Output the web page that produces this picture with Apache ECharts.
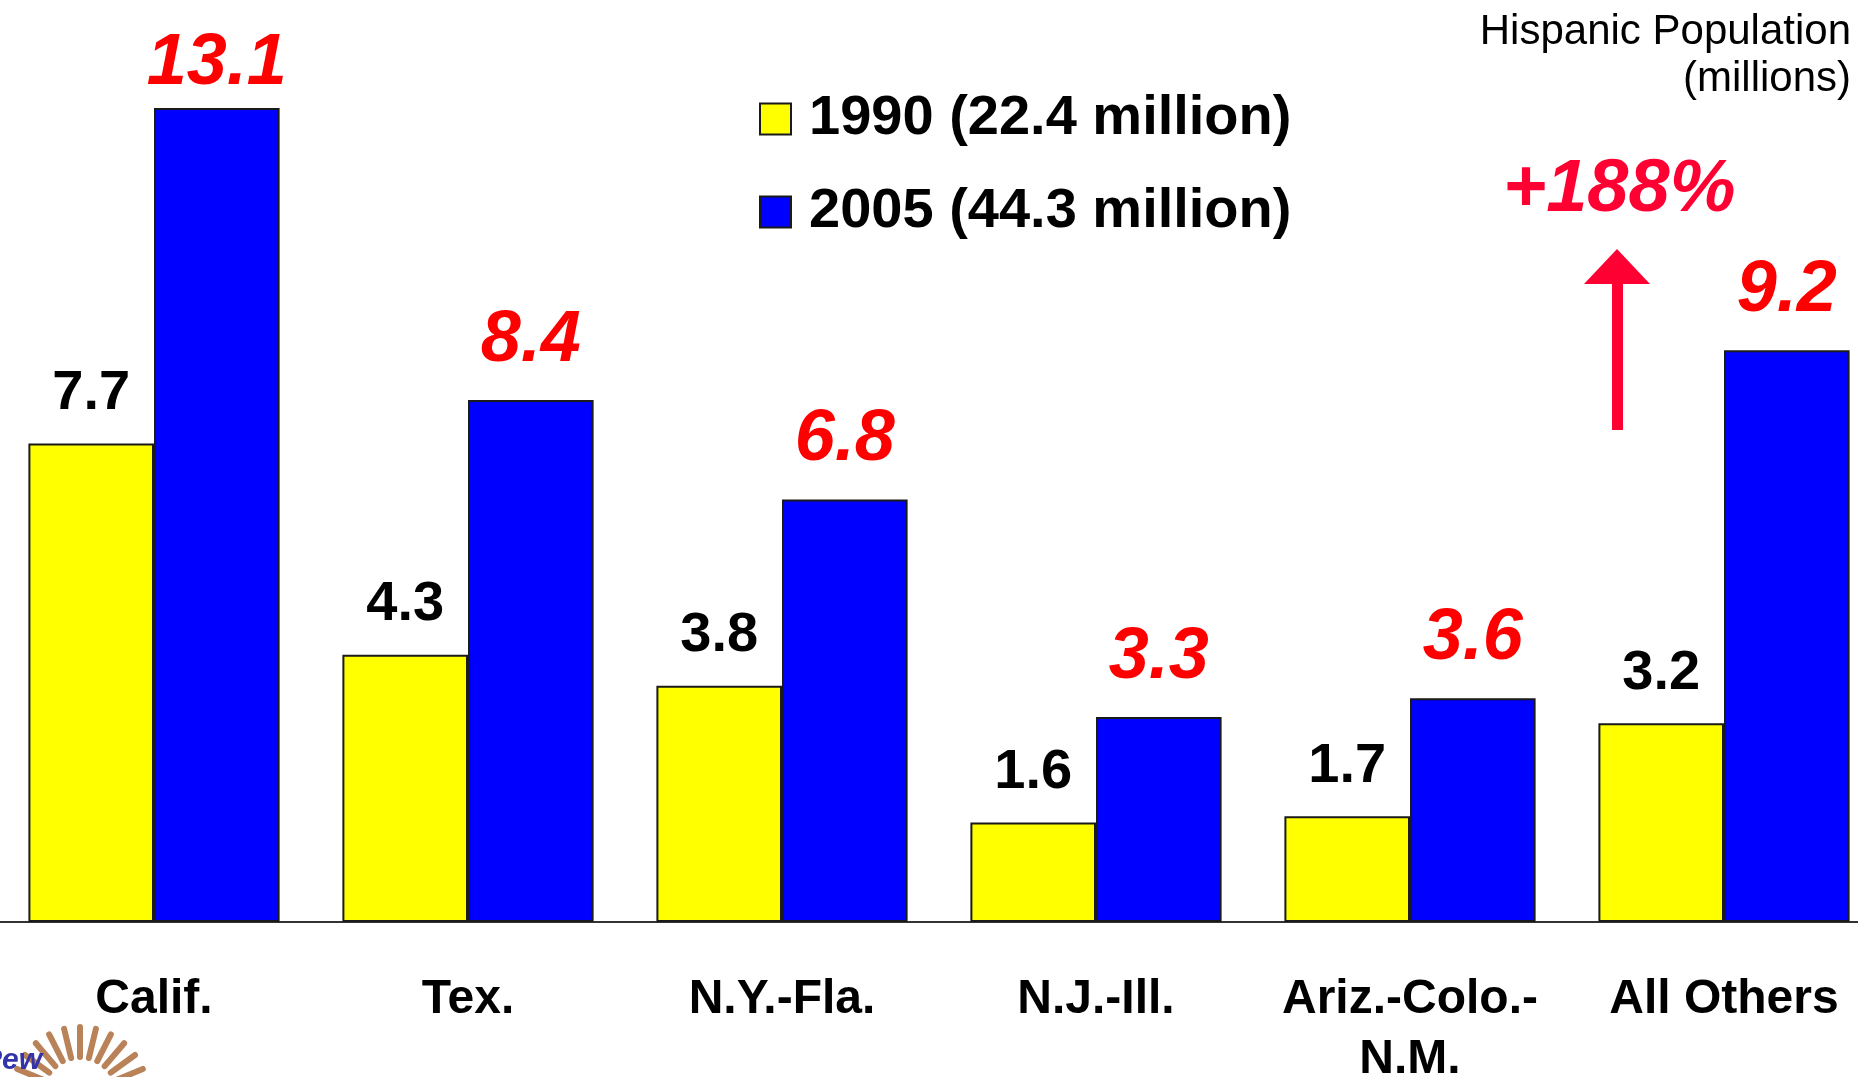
<!DOCTYPE html>
<html>
<head>
<meta charset="utf-8">
<script src="https://cdn.jsdelivr.net/npm/echarts@6/dist/echarts.min.js"></script>
<style>
  html, body { margin: 0; padding: 0; background: #fff; }
  #chart { width: 1858px; height: 1077px; }
</style>
</head>
<body>
<div id="chart"></div>
<script>
// data
const regions = ["Calif.", "Tex.", "N.Y.-Fla.", "N.J.-Ill.", "Ariz.-Colo.-\nN.M.", "All Others"];
const pop1990 = [7.7, 4.3, 3.8, 1.6, 1.7, 3.2];
const pop2005 = [13.1, 8.4, 6.8, 3.3, 3.6, 9.2];
const seriesNames = ["1990 (22.4 million)", "2005 (44.3 million)"];
const growthText = "+188%";

const FONT = "'Liberation Sans', Arial, sans-serif";
const RED_ARROW = "#ff0033";

const chart = echarts.init(document.getElementById("chart"));

// small sun logo, bottom left (decoration)
const sunRays = [];
for (let i = 0; i < 13; i++) {
  const a = Math.PI * (0.05 + i * 0.9 / 12);
  const cx = 80, cy = 1095;
  sunRays.push({
    type: "line",
    shape: {
      x1: cx - Math.cos(a) * 38, y1: cy - Math.sin(a) * 38,
      x2: cx - Math.cos(a) * 68, y2: cy - Math.sin(a) * 68
    },
    style: { stroke: "#b98258", lineWidth: 6, lineCap: "round" }
  });
}

// the tallest label sits closer to its bar (it runs into the top edge)
const data2005 = pop2005.map((v, i) => i === 0 ? { value: v, label: { distance: 8 } } : v);

const option = {
  animation: false,
  backgroundColor: "#fff",
  grid: { left: -3, right: -23, top: 52, bottom: 155, outerBoundsMode: "none", containLabel: false },
  legend: {
    orient: "vertical",
    left: 754,
    top: 86,
    itemWidth: 31,
    itemHeight: 31,
    itemGap: 37,
    icon: "rect",
    textStyle: { fontFamily: FONT, fontSize: 56, fontWeight: "bold", color: "#000", padding: [0, 0, 0, 13] },
    data: seriesNames
  },
  xAxis: {
    type: "category",
    data: regions,
    axisLine: { show: true, lineStyle: { color: "#333", width: 2 } },
    axisTick: { show: false },
    axisLabel: {
      interval: 0,
      margin: 48,
      fontFamily: FONT,
      fontSize: 48,
      fontWeight: "bold",
      color: "#000",
      lineHeight: 60
    }
  },
  yAxis: {
    type: "value",
    min: 0,
    max: 14,
    show: false,
    splitLine: { show: false }
  },
  series: [
    {
      name: seriesNames[0],
      type: "bar",
      data: pop1990,
      barGap: "0%",
      barCategoryGap: "20%",
      itemStyle: { color: "#ffff00", borderColor: "#1a1a1a", borderWidth: 2 },
      label: {
        show: true,
        position: "top",
        distance: 22,
        fontFamily: FONT,
        fontSize: 56,
        fontWeight: "bold",
        color: "#000",
        formatter: p => p.value.toFixed(1)
      }
    },
    {
      name: seriesNames[1],
      type: "bar",
      data: data2005,
      itemStyle: { color: "#0000ff", borderColor: "#1a1a1a", borderWidth: 2 },
      label: {
        show: true,
        position: "top",
        distance: 23,
        fontFamily: FONT,
        fontSize: 72,
        fontWeight: "bold",
        fontStyle: "italic",
        color: "#ff0000",
        formatter: p => p.value.toFixed(1)
      }
    }
  ],
  graphic: [
    {
      type: "text",
      right: 7,
      top: 11,
      style: { text: "Hispanic Population", font: "42px " + FONT, fill: "#000" }
    },
    {
      type: "text",
      right: 7,
      top: 58,
      style: { text: "(millions)", font: "42px " + FONT, fill: "#000" }
    },
    {
      type: "text",
      left: 1503,
      top: 154,
      style: {
        text: growthText,
        font: "italic bold 74px " + FONT,
        fill: RED_ARROW
      }
    },
    {
      type: "polygon",
      shape: { points: [[1617, 249], [1650, 284], [1584, 284]] },
      style: { fill: RED_ARROW }
    },
    {
      type: "rect",
      shape: { x: 1612, y: 282, width: 11, height: 148 },
      style: { fill: RED_ARROW }
    },
    {
      type: "group",
      children: sunRays
    },
    {
      type: "text",
      left: -18,
      top: 1046,
      style: {
        text: "Pew",
        font: "italic bold 30px " + FONT,
        fill: "#3333aa"
      }
    }
  ]
};

chart.setOption(option);
</script>
</body>
</html>
